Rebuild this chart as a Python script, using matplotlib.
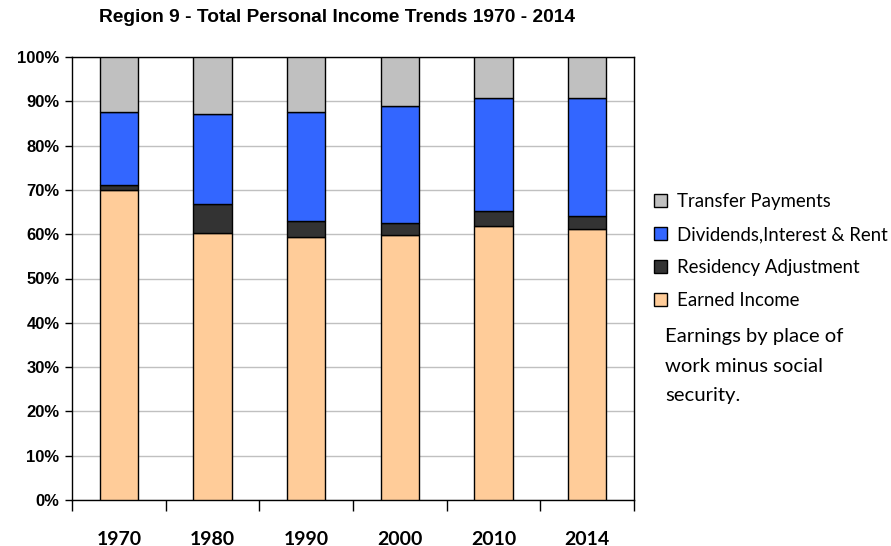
import numpy as np
import matplotlib.pyplot as plt
from matplotlib.patches import Patch
from matplotlib.ticker import FuncFormatter, FixedLocator

years = ['1970', '1980', '1990', '2000', '2010', '2014']
earned = [69.9, 60.3, 59.3, 59.8, 61.9, 61.2]
residency = [1.1, 6.6, 3.6, 2.8, 3.3, 2.8]
dividends = [16.5, 20.3, 24.6, 26.3, 25.5, 26.7]
transfer = [12.5, 12.8, 12.5, 11.1, 9.3, 9.3]

series = [
    ('Earned Income', earned, '#FFCC99'),
    ('Residency Adjustment', residency, '#333333'),
    ('Dividends,Interest & Rent', dividends, '#3366FF'),
    ('Transfer Payments', transfer, '#C0C0C0'),
]

fig = plt.figure(figsize=(8.91, 5.46), dpi=100)
ax = fig.add_axes([72 / 891, 46 / 546, 562 / 891, 443 / 546])

x = np.arange(len(years))
bottom = np.zeros(len(years))
for name, vals, col in series:
    ax.bar(x, vals, 0.41, bottom=bottom, color=col, edgecolor='black',
           linewidth=1, zorder=3)
    bottom += np.array(vals)

ax.set_xlim(-0.5, len(years) - 0.5)
ax.set_ylim(0, 100)
ax.set_yticks(np.arange(0, 101, 10))
ax.yaxis.set_major_formatter(FuncFormatter(lambda v, p: '%d%%' % v))
ax.grid(axis='y', color='#C0C0C0', linewidth=1, zorder=0)

ax.set_xticks(x)
ax.set_xticklabels(years, fontsize=14, fontweight='bold', family='Lato')
ax.xaxis.set_minor_locator(FixedLocator(np.arange(-0.5, len(years), 1)))
ax.tick_params(axis='x', which='major', length=0, pad=22)
ax.tick_params(axis='x', which='minor', length=8, width=1, direction='out')
ax.tick_params(axis='y', length=5, width=1, direction='out', pad=4)
for lab in ax.get_yticklabels():
    lab.set_fontweight('bold')
    lab.set_fontsize(12)
    lab.set_family('Liberation Sans')
for s in ax.spines.values():
    s.set_linewidth(1)

fig.text(337 / 891, 1 - 18 / 546, 'Region 9 - Total Personal Income Trends 1970 - 2014',
         ha='center', va='center', fontsize=13.8, fontweight='bold',
         family='Liberation Sans')

handles = [Patch(facecolor=c, edgecolor='black', label=n) for n, v, c in series[::-1]]
fig.legend(handles=handles, loc='upper left', bbox_to_anchor=(647 / 891, 1 - 186 / 546),
           frameon=False, prop={'family': 'Lato', 'size': 13.4},
           handlelength=0.7, handleheight=0.7, handletextpad=0.5,
           labelspacing=0.86, borderaxespad=0)

fig.text(665 / 891, 1 - 366 / 546, 'Earnings by place of\nwork minus social\nsecurity.',
         ha='left', va='center', fontsize=14.6, family='Lato', linespacing=1.88)

fig.savefig('out.png', dpi=100)
